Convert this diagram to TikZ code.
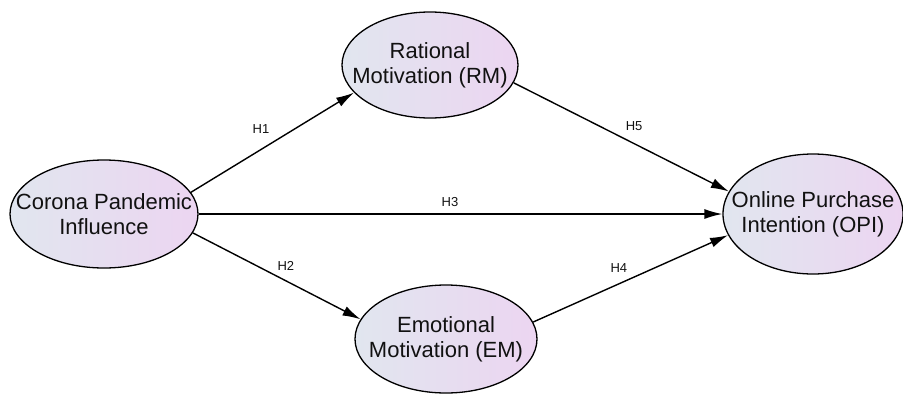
\documentclass[tikz,border=0pt]{standalone}
\usepackage{fontspec}
\setmainfont{Liberation Sans}
\usetikzlibrary{arrows.meta,positioning,shapes.geometric}

\definecolor{shadeL}{HTML}{E1E6EF}
\definecolor{shadeR}{HTML}{ECD5F1}
\definecolor{ink}{HTML}{111111}

\tikzset{every picture/.style={line width=1.3pt},
	construct/.style={ellipse,draw=black,left color=shadeL,right color=shadeR,inner sep=0pt},
	cname/.style={inner sep=0pt,align=center,text=ink,font=\fontsize{22}{25}\selectfont},
	path/.style={draw=black,line width=1.4pt,-{Latex[length=18pt,width=10pt]}},
	hyp/.style={inner sep=0pt,text=ink,font=\fontsize{13}{14}\selectfont}}

\begin{document}
\begin{tikzpicture}[x=1pt,y=-1pt]
			\useasboundingbox (0,0) rectangle (903,394);
			\node [construct,minimum width=188pt,minimum height=108pt,
				label={[cname]center:Corona Pandemic\\Influence}] (cpi) at (104,214) {};
			\node [construct,minimum width=176pt,minimum height=106pt,
				label={[cname]center:Rational\\Motivation (RM)}] (rm) at (430,65) {};
			\node [construct,minimum width=182pt,minimum height=108pt,
				label={[cname]center:Emotional\\Motivation (EM)}] (em) at (446,339) {};
			\node [construct,minimum width=180pt,minimum height=120pt,
				label={[cname]center:Online Purchase\\Intention (OPI)}] (opi) at (813,214) {};

			\draw [path] (cpi.14) -- (rm.200) node [hyp,pos=0.43,above=15pt] {H1};
			\draw [path] (cpi.-12) -- (em.167) node [hyp,pos=0.555,above=10pt] {H2};
			\draw [path] (cpi) -- (opi) node [hyp,pos=0.48,above=6.5pt] {H3};
			\draw [path] (em.11) -- (opi.194) node [hyp,pos=0.44,above=11pt] {H4};
			\draw [path] (rm.-12) -- (opi.165) node [hyp,pos=0.56,above=12pt] {H5};
		\end{tikzpicture}
\end{document}
